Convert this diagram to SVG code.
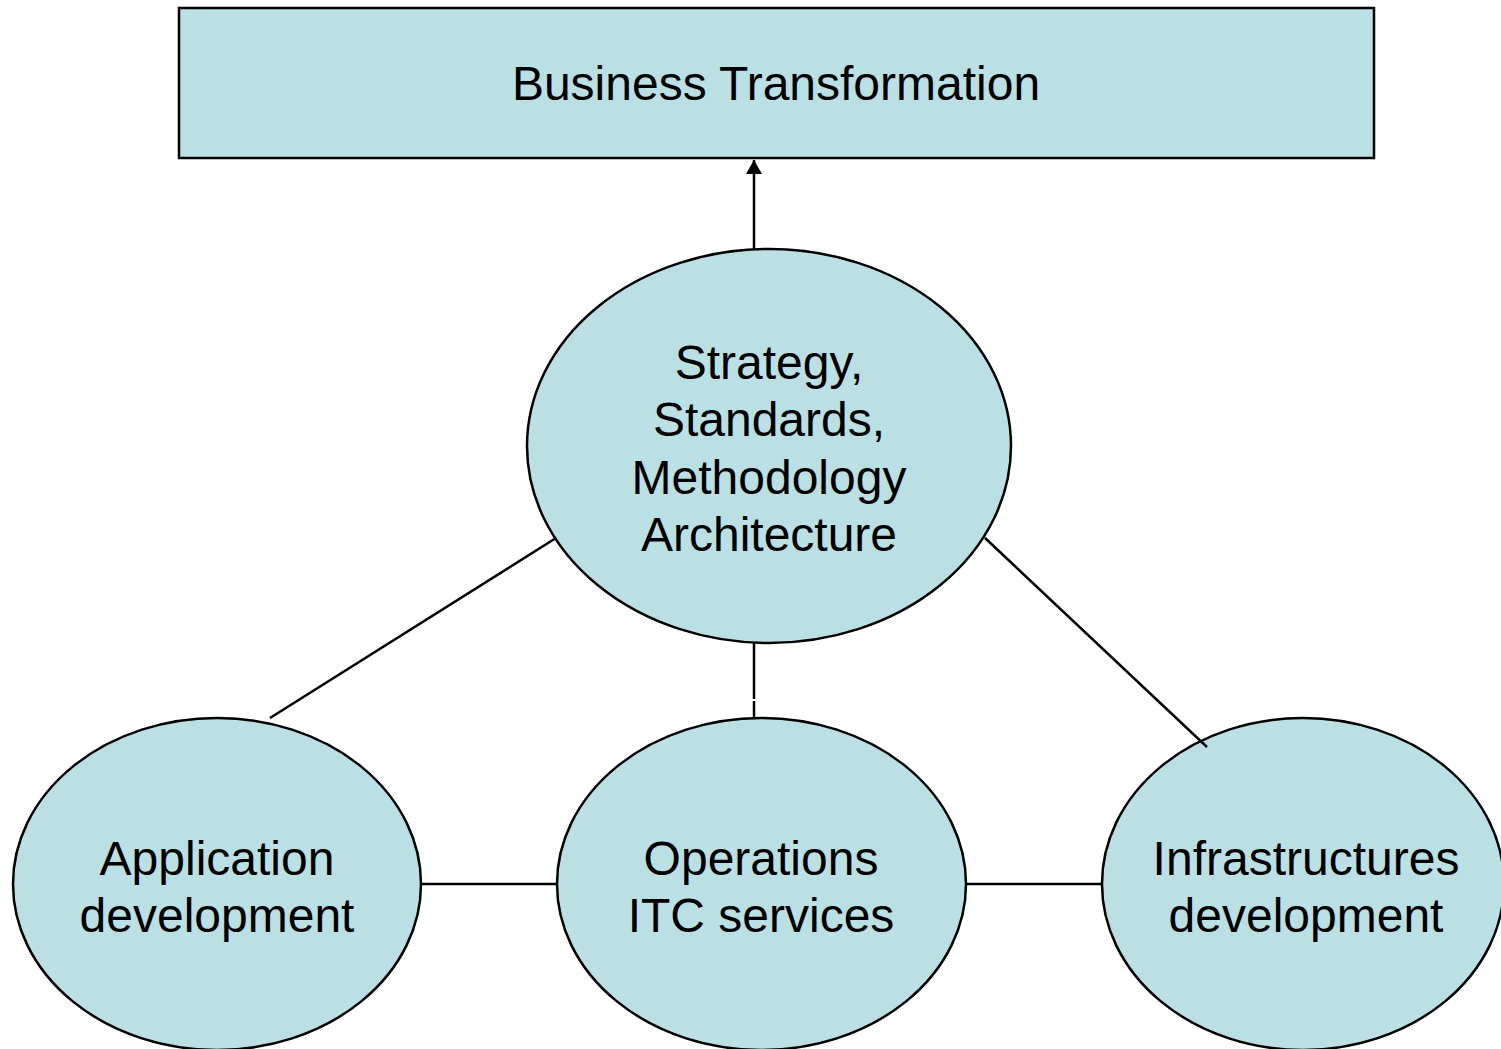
<svg xmlns="http://www.w3.org/2000/svg" width="1501" height="1049" viewBox="0 0 1501 1049">
<style>
.n{fill:#BBE0E3;stroke:#000;stroke-width:2.5}
.t{font-family:"Liberation Sans",Arial,sans-serif;font-size:48px;fill:#000;text-anchor:middle}
.c{stroke:#000;stroke-width:2.5;fill:none}
</style>
<defs>
<marker id="ah" markerWidth="14" markerHeight="16" refX="14" refY="8" orient="auto" markerUnits="userSpaceOnUse" viewBox="0 0 14 16">
<path d="M0,0 L14,8 L0,16 Z" fill="#000"/>
</marker>
</defs>
<rect width="1501" height="1049" fill="#fff"/>
<g id="business">
<rect class="n" x="179" y="8" width="1195" height="150"/>
<text class="t" x="776" y="100">Business Transformation</text>
</g>
<g id="strategy">
<ellipse class="n" cx="769" cy="446" rx="242" ry="197"/>
<text class="t" x="769" y="379">Strategy,</text>
<text class="t" x="769" y="436">Standards,</text>
<text class="t" x="769" y="494">Methodology</text>
<text class="t" x="769" y="551">Architecture</text>
</g>
<g id="application">
<ellipse class="n" cx="217" cy="884" rx="204" ry="166"/>
<text class="t" x="217" y="875">Application</text>
<text class="t" x="217" y="932">development</text>
</g>
<g id="operations">
<ellipse class="n" cx="761.5" cy="884" rx="204.5" ry="166"/>
<text class="t" x="761" y="875">Operations</text>
<text class="t" x="761" y="932">ITC services</text>
</g>
<g id="infrastructures">
<ellipse class="n" cx="1303" cy="884" rx="201" ry="166"/>
<text class="t" x="1306" y="875">Infrastructures</text>
<text class="t" x="1306" y="932">development</text>
</g>
<g id="connectors">
<line class="c" x1="754" y1="249" x2="754" y2="160" marker-end="url(#ah)"/>
<line class="c" x1="754" y1="643" x2="754" y2="699"/>
<line class="c" x1="754" y1="701" x2="754" y2="718"/>
<line class="c" x1="556" y1="538" x2="270" y2="718"/>
<line class="c" x1="985" y1="538" x2="1207" y2="747"/>
<line class="c" x1="421" y1="884" x2="557" y2="884"/>
<line class="c" x1="966" y1="884" x2="1102" y2="884"/>
</g>
</svg>
